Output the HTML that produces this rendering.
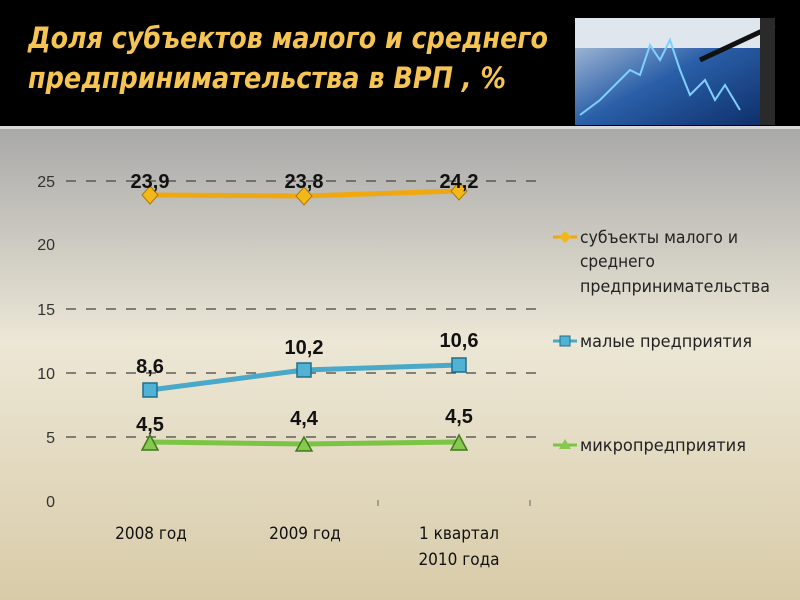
<!DOCTYPE html>
<html><head><meta charset="utf-8"><style>
html,body{margin:0;padding:0;width:800px;height:600px;overflow:hidden;background:#000}
</style></head><body>
<svg width="800" height="600" xmlns="http://www.w3.org/2000/svg" font-family="Liberation Sans, DejaVu Sans, sans-serif">
<defs>
<linearGradient id="bg" x1="0" y1="0" x2="0" y2="1">
<stop offset="0" stop-color="#a9a9a9"/>
<stop offset="0.45" stop-color="#ece7d6"/>
<stop offset="1" stop-color="#d8cba8"/>
</linearGradient>
<linearGradient id="img" x1="0" y1="0" x2="1" y2="1">
<stop offset="0" stop-color="#c8d4e4"/>
<stop offset="0.5" stop-color="#2a5fa8"/>
<stop offset="1" stop-color="#0c2c66"/>
</linearGradient>
</defs>
<rect x="0" y="0" width="800" height="128" fill="#000"/>
<rect x="0" y="126" width="800" height="3" fill="#d8d8d8"/>
<rect x="0" y="129" width="800" height="471" fill="url(#bg)"/>
<text x="28" y="48" font-size="29" font-weight="bold" font-style="italic" fill="#f6c453" font-family="DejaVu Sans Condensed, DejaVu Sans, sans-serif" textLength="520" lengthAdjust="spacingAndGlyphs">Доля субъектов малого и среднего</text>
<text x="28" y="88" font-size="29" font-weight="bold" font-style="italic" fill="#f6c453" font-family="DejaVu Sans Condensed, DejaVu Sans, sans-serif" textLength="478" lengthAdjust="spacingAndGlyphs">предпринимательства в ВРП , %</text>
<rect x="575" y="18" width="200" height="107" fill="url(#img)"/>
<rect x="575" y="18" width="200" height="30" fill="#dfe6ee"/>
<polyline points="580,115 600,100 615,85 630,70 640,75 650,45 660,60 670,40 680,70 690,95 705,80 715,100 725,85 740,110" fill="none" stroke="#7fd0ff" stroke-width="2"/>
<line x1="700" y1="60" x2="775" y2="25" stroke="#111" stroke-width="5"/>
<rect x="760" y="18" width="15" height="107" fill="#2a2a2a"/>
<g font-size="16" fill="#333">
<text x="55" y="187" text-anchor="end">25</text>
<text x="55" y="250" text-anchor="end">20</text>
<text x="55" y="315" text-anchor="end">15</text>
<text x="55" y="379" text-anchor="end">10</text>
<text x="55" y="443" text-anchor="end">5</text>
<text x="55" y="507" text-anchor="end">0</text>
</g>
<g stroke="#444" stroke-width="1.2" stroke-dasharray="10,10">
<line x1="66" y1="181" x2="540" y2="181"/>
<line x1="66" y1="309" x2="540" y2="309"/>
<line x1="66" y1="373" x2="540" y2="373"/>
<line x1="66" y1="437" x2="540" y2="437"/>
</g>
<line x1="378" y1="500" x2="378" y2="506" stroke="#666"/>
<line x1="530" y1="500" x2="530" y2="506" stroke="#666"/>
<polyline points="150,195 304,196 459,191" fill="none" stroke="#f0a810" stroke-width="5"/>
<polyline points="150,390 304,370 459,365" fill="none" stroke="#4aa8c8" stroke-width="5"/>
<polyline points="150,442 304,444 459,442" fill="none" stroke="#7cc444" stroke-width="5"/>
<g fill="#f2b81a" stroke="#b07a00">
<polygon points="150,186 158,195 150,204 142,195"/>
<polygon points="304,187 312,196 304,205 296,196"/>
<polygon points="459,182 467,191 459,200 451,191"/>
</g>
<g fill="#52b2d4" stroke="#1f6e8c" stroke-width="1.5">
<rect x="143" y="383" width="14" height="14"/>
<rect x="297" y="363" width="14" height="14"/>
<rect x="452" y="358" width="14" height="14"/>
</g>
<g fill="#86c850" stroke="#3f7a1c" stroke-width="1.5">
<polygon points="150,435 158,450 142,450"/>
<polygon points="304,437 312,451 296,451"/>
<polygon points="459,435 467,450 451,450"/>
</g>
<g font-size="20" font-weight="bold" fill="#111" text-anchor="middle">
<text x="150" y="188">23,9</text>
<text x="304" y="188">23,8</text>
<text x="459" y="188">24,2</text>
<text x="150" y="373">8,6</text>
<text x="304" y="354">10,2</text>
<text x="459" y="347">10,6</text>
<text x="150" y="431">4,5</text>
<text x="304" y="425">4,4</text>
<text x="459" y="423">4,5</text>
</g>
<g font-size="17" fill="#111" font-family="DejaVu Sans Condensed, DejaVu Sans, sans-serif" text-anchor="middle">
<text x="151" y="539">2008 год</text>
<text x="305" y="539">2009 год</text>
<text x="459" y="539">1 квартал</text>
<text x="459" y="565">2010 года</text>
</g>
<line x1="553" y1="237" x2="577" y2="237" stroke="#f0a810" stroke-width="3"/>
<polygon points="565,231 571,237 565,243 559,237" fill="#f2b81a"/>
<line x1="553" y1="341" x2="577" y2="341" stroke="#4aa8c8" stroke-width="3"/>
<rect x="560" y="336" width="10" height="10" fill="#52b2d4" stroke="#1f6e8c"/>
<line x1="553" y1="445" x2="577" y2="445" stroke="#7cc444" stroke-width="3"/>
<polygon points="565,439 571,449 559,449" fill="#86c850"/>
<g font-size="17" fill="#222" font-family="DejaVu Sans Condensed, DejaVu Sans, sans-serif">
<text x="580" y="243" textLength="158" lengthAdjust="spacingAndGlyphs">субъекты малого и</text>
<text x="580" y="267">среднего</text>
<text x="580" y="292" textLength="190" lengthAdjust="spacingAndGlyphs">предпринимательства</text>
<text x="580" y="347" textLength="172" lengthAdjust="spacingAndGlyphs">малые предприятия</text>
<text x="580" y="451" textLength="166" lengthAdjust="spacingAndGlyphs">микропредприятия</text>
</g>
</svg>
</body></html>
